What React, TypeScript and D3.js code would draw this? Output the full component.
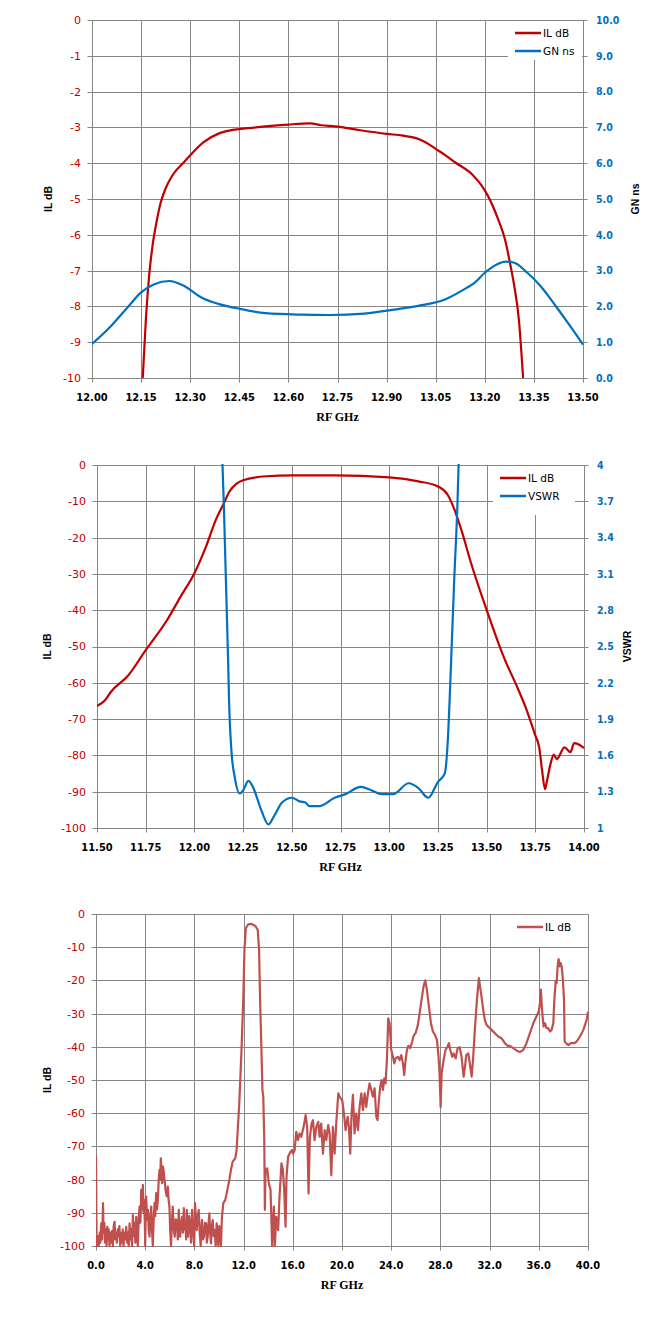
import * as d3 from "d3";

const RED = "#c00000";
const BLUE = "#0070c0";
const RED3 = "#c0504d";
const GRID = "#868686";

// ---- chart 1: IL dB / GN ns, 12.00 - 13.50 GHz
const c1Freq = [12.155, 12.165, 12.175, 12.185, 12.197, 12.21, 12.225, 12.245, 12.28, 12.3, 12.34, 12.39, 12.43, 12.45, 12.53, 12.6, 12.667, 12.7, 12.743, 12.82, 12.9, 12.95, 12.99, 13.02, 13.05, 13.08, 13.11, 13.16, 13.19, 13.21, 13.24, 13.262, 13.277, 13.29, 13.304, 13.317];
const c1IL = [-10, -8.3, -7.1, -6.3, -5.65, -5.1, -4.7, -4.35, -3.98, -3.78, -3.42, -3.16, -3.07, -3.05, -2.97, -2.92, -2.89, -2.94, -2.97, -3.08, -3.18, -3.23, -3.3, -3.42, -3.6, -3.78, -3.98, -4.3, -4.62, -4.92, -5.55, -6.14, -6.79, -7.43, -8.36, -10];
const c1GnFreq = [12.0, 12.059, 12.111, 12.15, 12.19, 12.236, 12.282, 12.334, 12.386, 12.452, 12.53, 12.635, 12.727, 12.832, 12.924, 13.0, 13.08, 13.13, 13.17, 13.2, 13.238, 13.264, 13.29, 13.33, 13.37, 13.42, 13.46, 13.5];
const c1GN = [0.95, 1.46, 2.0, 2.39, 2.62, 2.71, 2.57, 2.25, 2.07, 1.93, 1.81, 1.77, 1.76, 1.8, 1.91, 2.02, 2.2, 2.44, 2.67, 2.94, 3.18, 3.25, 3.22, 2.94, 2.57, 1.97, 1.46, 0.93];
const c1XTicks = [12.0, 12.15, 12.3, 12.45, 12.6, 12.75, 12.9, 13.05, 13.2, 13.35, 13.5];
const c1YTicks = [0, -1, -2, -3, -4, -5, -6, -7, -8, -9, -10];
const c1Y2Ticks = [0, 1, 2, 3, 4, 5, 6, 7, 8, 9, 10];

// ---- chart 2: IL dB / VSWR, 11.50 - 14.00 GHz
const c2Freq = [11.5, 11.54, 11.57, 11.66, 11.75, 11.86, 11.93, 12.0, 12.06, 12.11, 12.15, 12.18, 12.215, 12.25, 12.37, 12.5, 12.72, 13.0, 13.15, 13.25, 13.3, 13.335, 13.37, 13.42, 13.5, 13.594, 13.65, 13.7, 13.75, 13.77, 13.785, 13.8, 13.81, 13.828, 13.845, 13.86, 13.9, 13.93, 13.95, 13.98, 14.0];
const c2IL = [-66.4, -64.9, -62.6, -58.0, -51.0, -42.7, -36.2, -29.8, -22.4, -15.1, -10.7, -7.3, -5.2, -4.2, -3.1, -2.85, -2.85, -3.4, -4.5, -5.9, -8.2, -12.3, -17.8, -27.0, -39.9, -53.7, -60.3, -66.7, -74.5, -77.8, -84.2, -89.3, -87.0, -82.4, -79.8, -81.0, -77.8, -79.1, -76.6, -77.2, -78.0];
const c2VsFreq = [12.14, 12.151, 12.173, 12.178, 12.19, 12.207, 12.233, 12.25, 12.277, 12.3, 12.345, 12.38, 12.406, 12.45, 12.5, 12.54, 12.57, 12.59, 12.64, 12.72, 12.776, 12.853, 12.91, 12.96, 13.02, 13.1, 13.15, 13.2, 13.25, 13.285, 13.3, 13.31, 13.32, 13.335, 13.35, 13.358];
const c2VSWR = [4.2, 3.68, 2.39, 2.05, 1.64, 1.42, 1.285, 1.31, 1.39, 1.34, 1.14, 1.03, 1.09, 1.21, 1.25, 1.22, 1.21, 1.18, 1.18, 1.25, 1.28, 1.34, 1.31, 1.28, 1.28, 1.37, 1.33, 1.25, 1.38, 1.45, 1.7, 2.05, 2.47, 3.1, 3.66, 4.1];
const c2XTicks = [11.5, 11.75, 12.0, 12.25, 12.5, 12.75, 13.0, 13.25, 13.5, 13.75, 14.0];
const c2YTicks = [0, -10, -20, -30, -40, -50, -60, -70, -80, -90, -100];
const c2Y2Ticks = [1, 1.3, 1.6, 1.9, 2.2, 2.5, 2.8, 3.1, 3.4, 3.7, 4];

// ---- chart 3: IL dB wideband, 0 - 40 GHz
const c3Freq = [
  0.0, 0.05, 0.15, 0.22, 0.3, 0.36, 0.43, 0.5, 0.57, 0.62, 0.68, 0.74, 0.8, 0.86, 0.92, 0.97, 1.03, 1.1, 1.17, 1.23, 1.3, 1.37, 1.44, 1.51, 1.57, 1.64, 1.7, 1.77, 1.84, 1.9,
  1.97, 2.04, 2.1, 2.17, 2.24, 2.31, 2.38, 2.46, 2.53, 2.6, 2.66, 2.73, 2.8, 2.86, 2.93, 3.0, 3.07, 3.14, 3.2, 3.27, 3.33, 3.4, 3.47, 3.54, 3.61, 3.68, 3.74, 3.81, 3.87, 3.92,
  3.97, 4.0, 4.04, 4.08, 4.15, 4.22, 4.28, 4.35, 4.42, 4.49, 4.55, 4.62, 4.69, 4.76, 4.82, 4.89, 4.96, 5.03, 5.1, 5.16, 5.22, 5.27, 5.33, 5.38, 5.44, 5.49, 5.57, 5.65, 5.75, 5.84,
  5.9, 5.97, 6.03, 6.1, 6.17, 6.24, 6.32, 6.4, 6.48, 6.57, 6.65, 6.73, 6.78, 6.84, 6.92, 7.0, 7.07, 7.14, 7.2, 7.27, 7.33, 7.38, 7.44, 7.49, 7.57, 7.65, 7.73, 7.81, 7.86, 7.92,
  7.98, 8.05, 8.12, 8.19, 8.27, 8.35, 8.43, 8.51, 8.56, 8.62, 8.7, 8.78, 8.86, 8.95, 9.01, 9.08, 9.15, 9.22, 9.28, 9.35, 9.42, 9.49, 9.57, 9.65, 9.73, 9.81, 9.88, 9.95, 10.02, 10.08,
  10.16, 10.24, 10.35, 10.51, 10.68, 10.84, 10.97, 11.11, 11.32, 11.43, 11.54, 11.65,
  11.83, 11.97, 12.07, 12.18, 12.37, 12.64, 12.96, 13.15, 13.26, 13.34, 13.45, 13.53, 13.6, 13.68, 13.73, 13.78, 13.92, 14.05, 14.19, 14.32, 14.46, 14.54, 14.65, 14.81, 14.92,
  15.08, 15.19, 15.3, 15.41, 15.49, 15.62, 15.81, 15.95, 16.01, 16.15, 16.28, 16.42, 16.55, 16.69, 16.88, 17.04, 17.17, 17.28, 17.39, 17.53, 17.64, 17.77, 17.91, 18.07, 18.18,
  18.31, 18.45, 18.59, 18.72, 18.88, 18.99, 19.13, 19.26, 19.4, 19.53, 19.7, 19.8, 20.02, 20.19, 20.29, 20.46, 20.56, 20.67, 20.78, 20.89, 21.02, 21.16, 21.3, 21.43, 21.57,
  21.7, 21.84, 21.97, 22.11, 22.24, 22.38, 22.51, 22.65, 22.79, 22.89, 23.0, 23.11, 23.22, 23.33, 23.44, 23.54, 23.65, 23.76, 23.87, 24.0, 24.14, 24.25, 24.36, 24.54, 24.68,
  24.82, 24.95, 25.06, 25.17, 25.28, 25.39, 25.55, 25.71, 25.82, 25.98, 26.17, 26.31, 26.47, 26.63, 26.77, 26.9, 27.07, 27.23, 27.39, 27.56, 27.72, 27.85, 27.93, 28.02, 28.1,
  28.26, 28.42, 28.59, 28.69, 28.8, 28.96, 29.07, 29.24, 29.4, 29.56, 29.72, 29.89, 30.0, 30.1, 30.27, 30.43, 30.54, 30.65, 30.8, 30.97, 31.13, 31.34, 31.48, 31.61, 31.75,
  31.94, 32.16, 32.43, 32.7, 32.97, 33.24, 33.46, 33.65, 33.92, 34.19, 34.46, 34.74, 35.0, 35.28, 35.55, 35.82, 36.0, 36.09, 36.17, 36.23, 36.31, 36.39, 36.5, 36.63, 36.77,
  36.91, 37.04, 37.18, 37.26, 37.37, 37.45, 37.53, 37.61, 37.7, 37.78, 37.86, 37.96, 38.05, 38.1, 38.21, 38.4, 38.62, 38.89, 39.08, 39.35, 39.62, 39.89, 40.0,
];
const c3IL = [
  -72.9, -100, -97, -100, -96, -99, -93.2, -98, -87.1, -96, -93, -99, -95, -100, -94.2, -98, -95, -100, -96, -99, -95.5, -100, -94, -92.7, -98, -96, -99, -95, -97, -94,
  -100, -96.2, -99, -95, -100, -96, -98, -94.2, -99, -96, -100, -93.2, -98, -95, -100, -90.7, -97, -93, -99, -91.2, -96, -100, -92, -88.1, -93, -83.1, -89, -81.6, -90, -86.1,
  -93, -100, -91, -85.1, -92, -89.1, -95, -97.2, -91, -88.1, -95, -100, -92, -87.1, -91, -84.1, -89, -86.1, -80, -77.1, -80, -73.6, -78, -81.1, -76, -77.1, -80, -83.1, -85, -82.1,
  -86, -88.1, -95, -100, -93, -88.1, -95, -97.2, -92, -92.2, -98, -89.1, -94, -97.2, -93, -91.2, -96, -88.6, -95, -93.2, -98, -89.1, -94, -97.2, -91, -93.2, -99, -89.1, -94, -96.2,
  -100, -87.1, -92, -95.2, -91, -89.1, -96, -100, -95, -92.2, -98, -97.2, -93, -93.2, -99, -97.2, -93, -90.2, -96, -99.2, -94, -92.2, -97, -95.2, -100, -93.2, -97, -100, -94, -95.2,
  -100, -91.2, -87.1, -86.1, -83.1, -80.1, -77.1, -74.6, -73.6, -71.1, -64.0, -57.0,
  -40.9, -25.9, -10.8, -4.3, -3.1, -3.0, -3.6, -4.8, -10.8, -25.9, -40.9, -52.9, -55.0, -68.0, -89.1, -77.1, -76.6, -81.1, -83.1, -100, -88.1, -100, -91.2, -95.2, -85.1,
  -75.1, -77.1, -83.1, -94.2, -79.1, -73.1, -71.6, -71.1, -72.2, -71.2, -65.6, -68.1, -66.1, -67.1, -64.1, -60.6, -64.1, -84.2, -67.1, -63.1, -62.1, -68.1, -64.1, -62.6, -67.1,
  -63.1, -72.2, -65.1, -68.1, -63.6, -66.1, -78.7, -64.1, -72.2, -63.1, -54.0, -55.0, -56.1, -61.1, -65.1, -61.1, -64.1, -72.2, -60.1, -54.5, -66.1, -60.1, -65.1, -58.1, -54.0,
  -59.1, -54.0, -58.1, -54.0, -51.0, -53.0, -55.0, -52.5, -61.1, -62.1, -56.1, -52.0, -50.0, -53.0, -49.5, -51.0, -44.0, -31.4, -32.9, -40.9, -43.0, -45.0, -43.5, -43.0, -44.0,
  -42.5, -45.0, -48.5, -44.0, -40.9, -39.7, -40.4, -38.4, -36.7, -35.9, -33.4, -29.9, -25.8, -21.8, -20.0, -22.8, -27.9, -32.9, -35.4, -36.4, -37.9, -43.0, -48.0, -58.1, -48.0,
  -44.0, -40.9, -39.9, -38.9, -40.9, -43.0, -42.0, -43.5, -40.4, -40.1, -43.0, -49.0, -46.0, -42.5, -42.0, -46.0, -49.0, -44.0, -34.9, -25.8, -19.3, -24.8, -28.9, -31.9, -33.4,
  -34.1, -34.9, -35.9, -36.9, -37.4, -38.9, -39.7, -39.7, -40.4, -41.1, -41.6, -40.9, -38.9, -35.9, -32.9, -30.7, -29.4, -26.9, -22.8, -26.9, -30.9, -33.9, -32.9, -34.4, -34.4,
  -35.4, -34.9, -32.9, -25.9, -20.3, -20.8, -15.8, -13.6, -15.8, -14.8, -15.8, -19.8, -25.9, -38.4, -38.9, -39.5, -38.9, -38.9, -38.4, -36.9, -34.9, -31.9, -29.4,
];
const c3XTicks = [0, 4, 8, 12, 16, 20, 24, 28, 32, 36, 40];
const c3YTicks = [0, -10, -20, -30, -40, -50, -60, -70, -80, -90, -100];

type Series = { xs: number[]; ys: number[]; color: string; side: "left" | "right"; curve: d3.CurveFactory };
type Box = { x0: number; x1: number; y0: number; y1: number };

interface PanelProps {
  id: string;
  box: Box;
  xDomain: [number, number];
  xTicks: number[];
  xFmt: (v: number) => string;
  yDomain: [number, number];
  yTicks: number[];
  yFmt: (v: number) => string;
  right?: { domain: [number, number]; ticks: number[]; fmt: (v: number) => string; title: string; titleX: number };
  series: Series[];
  legend: { x: number; y: number; w: number; h: number; items: { label: string; color: string }[] };
  yTitleX: number;
}

const px = (v: number) => Math.round(v) + 0.5;

function Panel(p: PanelProps) {
  const { box } = p;
  const x = d3.scaleLinear().domain(p.xDomain).range([box.x0, box.x1]);
  const y = d3.scaleLinear().domain(p.yDomain).range([box.y1, box.y0]);
  const y2 = p.right ? d3.scaleLinear().domain(p.right.domain).range([box.y1, box.y0]) : null;
  const cy = (box.y0 + box.y1) / 2;
  const clipId = `clip-${p.id}`;

  return (
    <g>
      <defs>
        <clipPath id={clipId}>
          <rect x={box.x0} y={box.y0 - 1} width={box.x1 - box.x0 + 1} height={box.y1 - box.y0 + 2} />
        </clipPath>
      </defs>

      {/* horizontal grid + outward ticks */}
      {p.yTicks.map((t) => (
        <line key={`h${t}`} x1={px(box.x0) - 5} x2={px(box.x1) + (p.right ? 4 : 0)} y1={px(y(t))} y2={px(y(t))} stroke={GRID} strokeWidth={1} />
      ))}
      {/* vertical grid + outward ticks */}
      {p.xTicks.map((t) => (
        <line key={`v${t}`} x1={px(x(t))} x2={px(x(t))} y1={px(box.y0)} y2={px(box.y1) + 4} stroke={GRID} strokeWidth={1} />
      ))}

      {/* left tick labels */}
      {p.yTicks.map((t) => (
        <text key={`yl${t}`} x={box.x0 - 11} y={y(t)} dy="0.36em" textAnchor="end" fill={RED} fontSize={11} fontFamily="'DejaVu Sans', Verdana, sans-serif">
          {p.yFmt(t)}
        </text>
      ))}
      {/* right tick labels */}
      {p.right && y2 &&
        p.right.ticks.map((t) => (
          <text key={`yr${t}`} x={box.x1 + 13} y={y2(t)} dy="0.36em" textAnchor="start" fill={BLUE} fontSize={10.5} fontWeight="bold" fontFamily="'DejaVu Sans Condensed', 'DejaVu Sans', sans-serif">
            {p.right!.fmt(t)}
          </text>
        ))}
      {/* x tick labels */}
      {p.xTicks.map((t) => (
        <text key={`xl${t}`} x={x(t)} y={box.y1 + 23} textAnchor="middle" fill="#000" fontSize={11} fontWeight="bold" fontFamily="'DejaVu Sans Condensed', 'DejaVu Sans', sans-serif">
          {p.xFmt(t)}
        </text>
      ))}

      {/* titles */}
      <text x={(box.x0 + box.x1) / 2} y={box.y1 + 43} textAnchor="middle" fontSize={12} fontWeight="bold" fontFamily="'Liberation Serif', serif" fill="#000">
        RF GHz
      </text>
      <text transform={`translate(${p.yTitleX},${cy}) rotate(-90)`} dy="0.36em" textAnchor="middle" fontSize={10.5} fontWeight="bold" fontFamily="'Liberation Sans', Arial, sans-serif" fill="#000">
        IL dB
      </text>
      {p.right && (
        <text transform={`translate(${p.right.titleX},${cy}) rotate(-90)`} dy="0.36em" textAnchor="middle" fontSize={10.5} fontWeight="bold" fontFamily="'Liberation Sans', Arial, sans-serif" fill="#000">
          {p.right.title}
        </text>
      )}

      {/* data */}
      <g clipPath={`url(#${clipId})`}>
        {p.series.map((s, i) => {
          const sc = s.side === "right" && y2 ? y2 : y;
          const pts: [number, number][] = s.xs.map((v, k) => [v, s.ys[k]]);
          const line = d3
            .line<[number, number]>()
            .x((d) => x(d[0]))
            .y((d) => sc(d[1]))
            .curve(s.curve);
          return <path key={i} d={line(pts) ?? ""} fill="none" stroke={s.color} strokeWidth={2.2} strokeLinejoin="round" />;
        })}
      </g>

      {/* legend */}
      <rect x={p.legend.x} y={p.legend.y} width={p.legend.w} height={p.legend.h} fill="#fff" />
      {p.legend.items.map((it, i) => (
        <g key={it.label} transform={`translate(${p.legend.x + 7},${p.legend.y + 12 + i * 18})`}>
          <line x1={0} x2={26} y1={0} y2={0} stroke={it.color} strokeWidth={2.5} />
          <text x={28} y={0} dy="0.36em" fontSize={10.5} fontFamily="'DejaVu Sans', Verdana, sans-serif" fill="#000">
            {it.label}
          </text>
        </g>
      ))}
    </g>
  );
}

export default function App() {
  const f2 = d3.format(".2f");
  const f1 = d3.format(".1f");
  const fInt = (v: number) => String(v);

  return (
    <svg width={671} height={1332} style={{ position: "absolute", left: 0, top: 0, display: "block", background: "#fff" }}>
      <Panel
        id="c1"
        box={{ x0: 92, x1: 583, y0: 20, y1: 378 }}
        xDomain={[12.0, 13.5]}
        xTicks={c1XTicks}
        xFmt={f2}
        yDomain={[-10, 0]}
        yTicks={c1YTicks}
        yFmt={fInt}
        right={{ domain: [0, 10], ticks: c1Y2Ticks, fmt: f1, title: "GN ns", titleX: 635 }}
        series={[
          { xs: c1Freq, ys: c1IL, color: RED, side: "left", curve: d3.curveMonotoneX },
          { xs: c1GnFreq, ys: c1GN, color: BLUE, side: "right", curve: d3.curveMonotoneX },
        ]}
        legend={{ x: 508, y: 21, w: 74, h: 39, items: [{ label: "IL dB", color: RED }, { label: "GN ns", color: BLUE }] }}
        yTitleX={48}
      />
      <Panel
        id="c2"
        box={{ x0: 97, x1: 584, y0: 465, y1: 828 }}
        xDomain={[11.5, 14.0]}
        xTicks={c2XTicks}
        xFmt={f2}
        yDomain={[-100, 0]}
        yTicks={c2YTicks}
        yFmt={fInt}
        right={{ domain: [1, 4], ticks: c2Y2Ticks, fmt: fInt, title: "VSWR", titleX: 627 }}
        series={[
          { xs: c2Freq, ys: c2IL, color: RED, side: "left", curve: d3.curveMonotoneX },
          { xs: c2VsFreq, ys: c2VSWR, color: BLUE, side: "right", curve: d3.curveMonotoneX },
        ]}
        legend={{ x: 493, y: 466, w: 82, h: 49, items: [{ label: "IL dB", color: RED }, { label: "VSWR", color: BLUE }] }}
        yTitleX={47}
      />
      <Panel
        id="c3"
        box={{ x0: 96, x1: 588, y0: 914, y1: 1246 }}
        xDomain={[0, 40]}
        xTicks={c3XTicks}
        xFmt={f1}
        yDomain={[-100, 0]}
        yTicks={c3YTicks}
        yFmt={fInt}
        series={[{ xs: c3Freq, ys: c3IL, color: RED3, side: "left", curve: d3.curveLinear }]}
        legend={{ x: 510, y: 915, w: 76, h: 32, items: [{ label: "IL dB", color: RED3 }] }}
        yTitleX={47}
      />
    </svg>
  );
}
